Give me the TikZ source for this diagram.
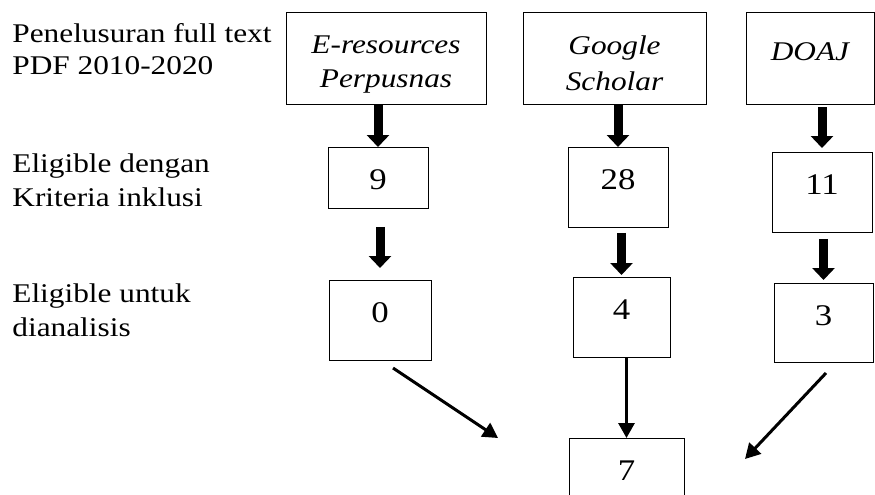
\documentclass[tikz,border=0pt]{standalone}
\usepackage{fontspec}
\setmainfont{Liberation Serif}[FakeStretch=1.16]
\usetikzlibrary{arrows.meta}
\newcommand\diafont{\fontsize{27}{33}\selectfont}
\newcommand\countfont{\fontsize{30}{33}\selectfont}

\begin{document}
\begin{tikzpicture}[
      x=1pt, y=-1pt,
      font=\diafont,
      line width=0.8pt,
      srcbox/.style={draw, align=center, minimum width=#1, minimum height=92pt, font=\diafont\itshape},
      numbox/.style={draw, anchor=north, minimum width=#1, inner ysep=5pt, text height=37pt, font=\countfont},
      rowtext/.style={anchor=north west, align=left, inner sep=0pt},
      fatarrow/.style={-{Triangle[width=22pt,length=12pt]}, line width=9pt},
      slimarrow/.style={-{Triangle[width=16pt,length=15pt]}, line width=3pt}
    ]
  \useasboundingbox (0,0) rectangle (875,495);

  % row captions
  \node[rowtext] (search) at (12,23) {Penelusuran full text\\[-1pt]PDF 2010-2020};
  \node[rowtext] (inclusion) at (12,153) {Eligible dengan\\[1pt]Kriteria inklusi};
  \node[rowtext] (analysis) at (12,283) {Eligible untuk\\[1pt]dianalisis};

  % sources
  \node[srcbox=200pt] (perpusnas) at (386,58) {\rule{0pt}{30pt}E-resources\\[1pt]Perpusnas};
  \node[srcbox=183pt] (scholar) at (614.5,58) {\rule{0pt}{30pt}Google\\[3pt]Scholar};
  \node[srcbox=128pt, text height=20pt, text depth=14pt] (doaj) at (810,58) {DOAJ};

  % counts
  \node[numbox=100pt, text depth=14pt] (perpusnasin) at (378,147) {9};
  \node[numbox=102pt, text depth=33pt] (perpusnasout) at (380,280) {0};
  \node[numbox=100pt, text depth=33pt] (scholarin) at (618,147) {28};
  \node[numbox=97pt, text depth=33pt] (scholarout) at (621.5,277) {4};
  \node[numbox=100pt, text depth=33pt] (doajin) at (822,152) {11};
  \node[numbox=99pt, text depth=32pt] (doajout) at (823.5,283) {3};
  \node[numbox=115pt, text depth=12pt] (total) at (626.5,438) {7};

  \draw[fatarrow] (perpusnasin.north |- perpusnas.south) -- (perpusnasin.north);
  \draw[fatarrow, shorten <=18pt, shorten >=12pt] (perpusnasout.north |- perpusnasin.south) -- (perpusnasout.north);
  \draw[fatarrow] (scholarin.north |- scholar.south) -- (scholarin.north);
  \draw[fatarrow, shorten <=5pt, shorten >=2pt] (scholarout.north |- scholarin.south) -- (scholarout.north);
  \draw[fatarrow, shorten <=3pt, shorten >=4pt] (doajin.north |- doaj.south) -- (doajin.north);
  \draw[fatarrow, shorten <=6pt, shorten >=3pt] (doajout.north |- doajin.south) -- (doajout.north);

  % merging
  \coordinate (leftfrom) at (393,368);
  \coordinate (leftto) at (498,438);
  \coordinate (rightfrom) at (826,373);
  \coordinate (rightto) at (745,459);
  \draw[slimarrow] (total.north |- scholarout.south) -- (total.north);
  \draw[slimarrow] (leftfrom) -- (leftto);
  \draw[slimarrow] (rightfrom) -- (rightto);
\end{tikzpicture}
\end{document}
